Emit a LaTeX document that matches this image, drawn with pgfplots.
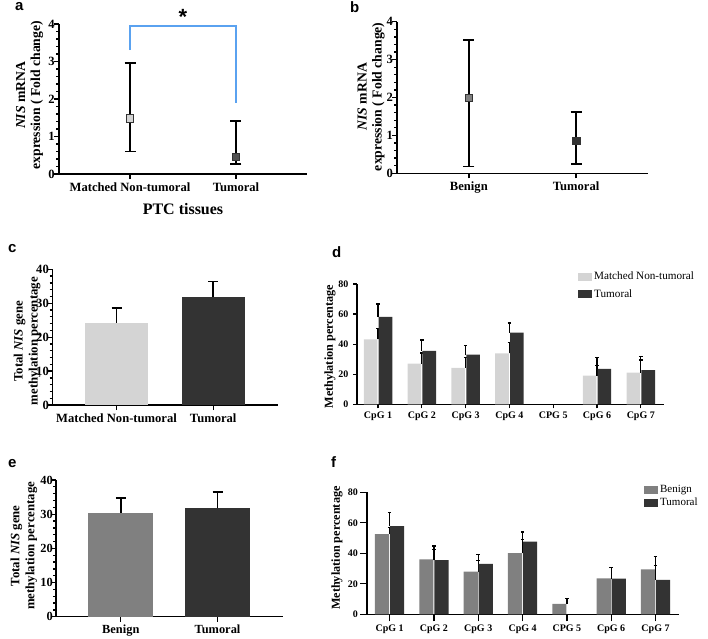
\documentclass[border=0pt]{standalone}
\usepackage{fontspec}
\setmainfont{Liberation Serif}
\newfontfamily\sansf{Liberation Sans}
\usepackage{pgfplots}
\pgfplotsset{compat=1.18}
\definecolor{lg}{HTML}{D4D4D4}
\definecolor{dg}{HTML}{333333}
\definecolor{mg}{HTML}{808080}
\definecolor{br}{HTML}{5AA2F0}
\pgfplotsset{
 panel/.style={
  scale only axis, anchor=south west, clip=false,
  axis x line*=bottom, axis y line*=left,
  axis line style={line width=1.5pt, black},
  tick style={line width=1.3pt, black},
  tick align=outside,
  major tick length=5pt, minor tick length=3pt,
  /pgf/number format/assume math mode=true,
  ylabel style={anchor=center, align=center},
  xlabel style={anchor=center},
 },
 ebarc/.style={error bars/.cd, y dir=plus, y explicit,
   error bar style={line width=1.8pt, black},
   error mark options={rotate=90, line width=1.8pt, black, mark size=5pt}, /pgfplots/.cd},
 ebard/.style={error bars/.cd, y dir=plus, y explicit,
   error bar style={line width=1.3pt, black},
   error mark options={rotate=90, line width=1.3pt, black, mark size=1.8pt}, /pgfplots/.cd},
 ebarp/.style={error bars/.cd, y dir=both, y explicit,
   error bar style={line width=1.8pt, black},
   error mark options={rotate=90, line width=1.8pt, black, mark size=5.5pt}, /pgfplots/.cd},
}
\newcommand{\plab}[1]{{\sansf\bfseries\fontsize{15}{15}\selectfont #1}}
\begin{document}
\begin{tikzpicture}
\path[use as bounding box] (0,0) rectangle (708pt,638pt);

% ---------- panel a ----------
\begin{axis}[panel, at={(59pt,464pt)}, width=248pt, height=150pt,
 xmin=-0.67, xmax=1.67, ymin=0, ymax=4, ytick={0,1,2,3,4}, minor y tick num=4,
 xtick={0,1}, xticklabels={Matched Non-tumoral, Tumoral},
 xticklabel style={font=\bfseries\fontsize{12.6}{15}\selectfont},
 yticklabel style={font=\bfseries\fontsize{12.6}{15}\selectfont, anchor=east, inner sep=0pt, xshift=1pt},
 xlabel={\textbf{PTC tissues}},
 xlabel style={font=\fontsize{16}{19}\selectfont, at={(axis description cs:0.5,-0.233)}},
 ylabel={\textbf{\textit{NIS} mRNA}\\\textbf{expression ( Fold change)}},
 ylabel style={font=\fontsize{13.7}{15}\selectfont, at={(axis description cs:-0.119,0.525)}},
]
\addplot[br, line width=2pt] coordinates {(0,3.3) (0,3.95) (1,3.95) (1,1.9)};
\addplot[only marks, mark=square*, mark size=3.7pt, mark options={fill=lg, draw=dg, line width=0.6pt}, ebarp]
 coordinates {(0,1.49) += (0,1.48) -= (0,0.89)};
\addplot[only marks, mark=square*, mark size=3.7pt, mark options={fill=dg!85!white, draw=dg, line width=0.6pt}, ebarp]
 coordinates {(1,0.46) += (0,0.96) -= (0,0.19)};
\node[font=\sansf\bfseries\fontsize{22}{22}\selectfont] at (axis cs:0.5,4.2) {*};
\end{axis}

% ---------- panel b ----------
\begin{axis}[panel, at={(397pt,464.7pt)}, width=251pt, height=151.6pt,
 xmin=-0.67, xmax=1.67, ymin=0, ymax=4, ytick={0,1,2,3,4}, minor y tick num=4,
 xtick={0,1}, xticklabels={Benign, Tumoral},
 xticklabel style={font=\bfseries\fontsize{12.6}{15}\selectfont},
 yticklabel style={font=\bfseries\fontsize{12.6}{15}\selectfont, anchor=east, inner sep=0pt, xshift=1pt},
 ylabel={\textbf{\textit{NIS} mRNA}\\\textbf{expression ( Fold change)}},
 ylabel style={font=\fontsize{13.7}{15}\selectfont, at={(axis description cs:-0.103,0.505)}},
]
\addplot[only marks, mark=square*, mark size=3.7pt, mark options={fill=mg, draw=dg, line width=0.6pt}, ebarp]
 coordinates {(0,1.99) += (0,1.53) -= (0,1.81)};
\addplot[only marks, mark=square*, mark size=3.7pt, mark options={fill=dg, draw=dg, line width=0.6pt}, ebarp]
 coordinates {(1,0.85) += (0,0.77) -= (0,0.60)};
\end{axis}

% ---------- panel c ----------
\begin{axis}[panel, at={(52.7pt,233pt)}, width=225.3pt, height=135.7pt,
 xmin=-0.66, xmax=1.67, ymin=0, ymax=40, ytick={0,10,20,30,40}, minor y tick num=4,
 xtick={0,1}, xticklabels={Matched Non-tumoral, Tumoral},
 xticklabel style={font=\bfseries\fontsize{12.6}{15}\selectfont},
 yticklabel style={font=\bfseries\fontsize{12.6}{15}\selectfont, anchor=east, inner sep=0pt, xshift=1.3pt},
 ylabel={\textbf{Total \textit{NIS} gene}\\\textbf{methylation percentage}},
 ylabel style={font=\fontsize{12.8}{15}\selectfont, at={(axis description cs:-0.114,0.47)}},
]
\addplot[ybar, bar width=0.65, bar shift=0, fill=lg, draw=none, ebarc] coordinates {(0,24.3) += (0,4.4)};
\addplot[ybar, bar width=0.65, bar shift=0, fill=dg, draw=none, ebarc] coordinates {(1,31.8) += (0,4.6)};
\end{axis}

% ---------- panel d ----------
\begin{axis}[panel, at={(357pt,233.7pt)}, width=307pt, height=120.3pt,
 xmin=0.52, xmax=7.53, ymin=0, ymax=80, ytick={0,20,40,60,80},
 xtick={1,2,3,4,5,6,7}, xticklabels={CpG 1, CpG 2, CpG 3, CpG 4, CPG 5, CpG 6, CpG 7},
 xticklabel style={font=\bfseries\fontsize{10}{12}\selectfont},
 yticklabel style={font=\bfseries\fontsize{10}{12}\selectfont, anchor=east, inner sep=0pt, xshift=-4.5pt},
 axis line style={line width=1.3pt}, major tick length=4pt,
 ylabel={\textbf{Methylation percentage}},
 ylabel style={font=\fontsize{12.2}{14}\selectfont, at={(axis description cs:-0.088,0.479)}},
 legend style={at={(rel axis cs:0.71,1.133)}, anchor=north west, draw=none, fill=none,
   font=\fontsize{11.2}{13}\selectfont, row sep=4pt},
 legend cell align=left,
 legend image code/.code={\fill[#1] (0pt,-4pt) rectangle (14pt,4pt);},
]
\addplot[forget plot, ybar, bar width=0.31, bar shift=-0.17, fill=lg, draw=none, ebard] coordinates {
 (1,43.2) += (0,7.1) (2,27.0) += (0,7.2) (3,24.2) += (0,6.7) (4,33.8) += (0,7.5)
 (6,19.0) += (0,6.9) (7,21.0) += (0,8.5)};
\addplot[forget plot, ybar, bar width=0.31, bar shift=0.17, fill=dg, draw=none, ebard] coordinates {
 (1,58.1) += (0,8.7) (2,35.6) += (0,7.1) (3,33.1) += (0,6.2) (4,47.6) += (0,6.5)
 (6,23.5) += (0,7.4) (7,22.8) += (0,9.1)};
\addlegendimage{fill=lg, draw=none}
\addlegendentry{Matched Non-tumoral}
\addlegendimage{fill=dg, draw=none}
\addlegendentry{Tumoral}
\end{axis}

% ---------- panel e ----------
\begin{axis}[panel, at={(56pt,21.3pt)}, width=227.3pt, height=136.7pt,
 xmin=-0.67, xmax=1.68, ymin=0, ymax=40, ytick={0,10,20,30,40}, minor y tick num=4,
 xtick={0,1}, xticklabels={Benign, Tumoral},
 xticklabel style={font=\bfseries\fontsize{12.4}{15}\selectfont},
 yticklabel style={font=\bfseries\fontsize{12.4}{15}\selectfont, anchor=east, inner sep=0pt, xshift=2pt},
 ylabel={\textbf{Total \textit{NIS} gene}\\\textbf{methylation percentage}},
 ylabel style={font=\fontsize{12.8}{15}\selectfont, at={(axis description cs:-0.141,0.519)}},
]
\addplot[ybar, bar width=0.67, bar shift=0, fill=mg, draw=none, ebarc] coordinates {(0,30.4) += (0,4.3)};
\addplot[ybar, bar width=0.67, bar shift=0, fill=dg, draw=none, ebarc] coordinates {(1,31.7) += (0,4.8)};
\end{axis}

% ---------- panel f ----------
\begin{axis}[panel, at={(367pt,23.7pt)}, width=312pt, height=122pt,
 xmin=0.49, xmax=7.53, ymin=0, ymax=80, ytick={0,20,40,60,80},
 xtick={1,2,3,4,5,6,7}, xticklabels={CpG 1, CpG 2, CpG 3, CpG 4, CPG 5, CpG 6, CpG 7},
 xticklabel style={font=\bfseries\fontsize{10}{12}\selectfont},
 yticklabel style={font=\bfseries\fontsize{10}{12}\selectfont, anchor=east, inner sep=0pt, xshift=-2pt},
 axis line style={line width=1.3pt}, major tick length=7pt,
 ylabel={\textbf{Methylation percentage}},
 ylabel style={font=\fontsize{12.2}{14}\selectfont, at={(axis description cs:-0.096,0.543)}},
 legend style={at={(rel axis cs:0.878,1.093)}, anchor=north west, draw=none, fill=none,
   font=\fontsize{11}{13}\selectfont, row sep=0pt},
 legend cell align=left,
 legend image code/.code={\fill[#1] (0pt,-4pt) rectangle (14pt,4pt);},
]
\addplot[forget plot, ybar, bar width=0.32, bar shift=-0.17, fill=mg, draw=none, ebard] coordinates {
 (1,52.5) += (0,4.5) (2,36.0) += (0,8.8) (3,28.0) += (0,7.4) (4,40.2) += (0,9.0)
 (5,6.8) += (0,3.4) (6,23.6) += (0,7.2) (7,29.5) += (0,8.5)};
\addplot[forget plot, ybar, bar width=0.32, bar shift=0.17, fill=dg, draw=none, ebard] coordinates {
 (1,57.9) += (0,8.7) (2,35.6) += (0,7.0) (3,33.0) += (0,6.3) (4,47.6) += (0,6.4)
 (6,23.4) += (0,7.4) (7,22.5) += (0,9.4)};
\addlegendimage{fill=mg, draw=none}
\addlegendentry{Benign}
\addlegendimage{fill=dg, draw=none}
\addlegendentry{Tumoral}
\end{axis}

% panel letters
\node[anchor=base west, inner sep=0] at (15pt,627pt) {\plab{a}};
\node[anchor=base west, inner sep=0] at (350pt,625pt) {\plab{b}};
\node[anchor=base west, inner sep=0] at (8pt,386pt) {\plab{c}};
\node[anchor=base west, inner sep=0] at (332pt,381pt) {\plab{d}};
\node[anchor=base west, inner sep=0] at (8pt,171pt) {\plab{e}};
\node[anchor=base west, inner sep=0] at (331pt,171pt) {\plab{f}};
\end{tikzpicture}
\end{document}
